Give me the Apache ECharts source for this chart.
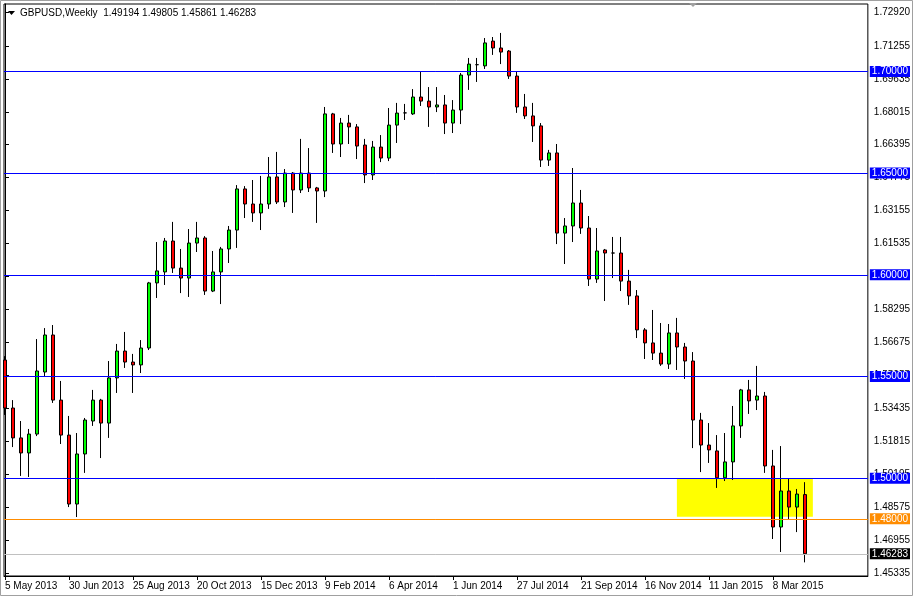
<!DOCTYPE html>
<html><head><meta charset="utf-8">
<script src="https://cdn.jsdelivr.net/npm/echarts@6/dist/echarts.min.js"></script>
<style>html,body{margin:0;padding:0;background:#fff}#c{width:913px;height:596px}</style>
</head><body><div id="c"></div>
<script>
const symbolName = 'GBPUSD,Weekly';
const opens = [1.5581,1.5345,1.5198,1.5124,1.5217,1.5522,1.5704,1.5384,1.5212,1.4873,
1.5119,1.5281,1.5384,1.5271,1.5493,1.5625,1.5571,1.5557,1.5640,1.5960,
1.6014,1.6166,1.6033,1.5984,1.6156,1.6181,1.5920,1.6014,1.6127,1.6220,
1.6422,1.6348,1.6304,1.6348,1.6481,1.6358,1.6500,1.6417,1.6500,1.6427,
1.6412,1.6791,1.6643,1.6746,1.6727,1.6638,1.6491,1.6628,1.6574,1.6736,
1.6796,1.6791,1.6874,1.6854,1.6825,1.6835,1.6746,1.6810,1.6982,1.7033,
1.7027,1.7149,1.7115,1.7100,1.6977,1.6825,1.6781,1.6732,1.6564,1.6599,
1.6205,1.6240,1.6353,1.6230,1.5979,1.6122,1.6107,1.6107,1.5969,1.5896,
1.5729,1.5665,1.5615,1.5561,1.5714,1.5645,1.5576,1.5286,1.5163,1.5134,
1.5002,1.5080,1.5257,1.5434,1.5384,1.5404,1.5060,1.4760,1.4937,1.4858,
1.49194];
const highs = [1.5600,1.5384,1.5281,1.5242,1.5684,1.5738,1.5753,1.5478,1.5306,1.5222,
1.5296,1.5434,1.5390,1.5576,1.5660,1.5719,1.5611,1.5679,1.5965,1.6161,
1.6181,1.6260,1.6127,1.6225,1.6260,1.6190,1.6117,1.6137,1.6240,1.6441,
1.6436,1.6466,1.6486,1.6579,1.6604,1.6520,1.6505,1.6668,1.6623,1.6432,
1.6825,1.6796,1.6771,1.6786,1.6741,1.6668,1.6658,1.6687,1.6820,1.6845,
1.6840,1.6913,1.6997,1.6923,1.6923,1.6884,1.6859,1.6992,1.7066,1.7066,
1.7164,1.7169,1.7189,1.7105,1.6997,1.6889,1.6845,1.6746,1.6614,1.6643,
1.6279,1.6525,1.6417,1.6289,1.6230,1.6127,1.6186,1.6186,1.6024,1.5925,
1.5738,1.5827,1.5763,1.5758,1.5788,1.5665,1.5620,1.5321,1.5271,1.5212,
1.5222,1.5355,1.5439,1.5483,1.5552,1.5424,1.5139,1.5158,1.4996,1.4947,
1.49805];
const lows = [1.5311,1.5153,1.5011,1.5006,1.5207,1.5498,1.5370,1.5168,1.4858,1.4809,
1.5026,1.5257,1.5099,1.5198,1.5419,1.5542,1.5419,1.5517,1.5630,1.5886,
1.5950,1.6009,1.5910,1.5891,1.6112,1.5901,1.5915,1.5856,1.6058,1.6132,
1.6279,1.6260,1.6220,1.6324,1.6348,1.6333,1.6304,1.6402,1.6407,1.6255,
1.6382,1.6599,1.6579,1.6643,1.6569,1.6451,1.6466,1.6554,1.6559,1.6648,
1.6761,1.6786,1.6830,1.6727,1.6800,1.6692,1.6697,1.6741,1.6909,1.6948,
1.7012,1.7081,1.7036,1.6963,1.6796,1.6766,1.6653,1.6530,1.6535,1.6151,
1.6053,1.6161,1.6201,1.5945,1.5960,1.5871,1.5984,1.5920,1.5852,1.5689,
1.5586,1.5581,1.5552,1.5537,1.5532,1.5488,1.5148,1.5030,1.5075,1.4952,
1.4986,1.4991,1.5198,1.5316,1.5335,1.5026,1.4701,1.4637,1.4799,1.4735,
1.45861];
const closes = [1.5345,1.5198,1.5124,1.5217,1.5527,1.5704,1.5384,1.5212,1.4873,1.5119,
1.5286,1.5384,1.5271,1.5493,1.5625,1.5571,1.5557,1.5640,1.5960,1.6019,
1.6166,1.6033,1.5984,1.6156,1.6181,1.5920,1.6014,1.6127,1.6220,1.6422,
1.6348,1.6304,1.6348,1.6481,1.6358,1.6500,1.6417,1.6500,1.6427,1.6412,
1.6791,1.6643,1.6746,1.6727,1.6633,1.6491,1.6628,1.6574,1.6736,1.6795,
1.6796,1.6874,1.6854,1.6825,1.6835,1.6746,1.6810,1.6982,1.7036,1.7033,
1.7140,1.7115,1.7095,1.6977,1.6825,1.6781,1.6732,1.6564,1.6599,1.6205,
1.6240,1.6353,1.6230,1.5979,1.6117,1.6107,1.6107,1.5969,1.5896,1.5729,
1.5665,1.5615,1.5561,1.5714,1.5645,1.5576,1.5286,1.5163,1.5139,1.5002,
1.5080,1.5257,1.5434,1.5380,1.5404,1.5060,1.4760,1.4937,1.4858,1.4922,
1.46283];
const dateTickIdx = [0,8,16,24,32,40,48,56,64,72,80,88,96];
const dateTickLabels = ['5 May 2013','30 Jun 2013','25 Aug 2013','20 Oct 2013','15 Dec 2013','9 Feb 2014','6 Apr 2014','1 Jun 2014','27 Jul 2014','21 Sep 2014','16 Nov 2014','11 Jan 2015','8 Mar 2015'];
const priceTickLabels = ['1.45335','1.46955','1.48575','1.50195','1.51815','1.53435','1.55055','1.56675','1.58295','1.59915','1.61535','1.63155','1.64775','1.66395','1.68015','1.69635','1.71255','1.72920'];
const blueLevels = [1.70, 1.65, 1.60, 1.55, 1.50];
const orangeLevel = 1.48;
const zoneStartIdx = 84, zoneEndIdx = 101, zoneHigh = 1.4998, zoneLow = 1.4810;

const FONT = 'Liberation Sans, Arial, sans-serif';
const priceTicks = priceTickLabels.map(Number);
const candleData = opens.map((o, i) => [i, o, closes[i], lows[i], highs[i]]);
const last = opens.length - 1;
const header = symbolName + '  ' + [opens[last], highs[last], lows[last], closes[last]].map(v => v.toFixed(5)).join(' ');

const lvl = (v, lineColor, bg) => ({
  yAxis: v,
  lineStyle: { color: lineColor, type: 'solid', width: 1 },
  label: { backgroundColor: bg }
});

const chart = echarts.init(document.getElementById('c'), null, { renderer: 'canvas' });
chart.setOption({
  animation: false,
  backgroundColor: '#ffffff',
  textStyle: { fontFamily: FONT },
  grid: { left: 4, right: 45, top: 4, bottom: 20, show: true, borderColor: '#000', borderWidth: 1, backgroundColor: '#fff' },
  xAxis: {
    type: 'value', min: -0.125, max: 107.875,
    axisLine: { show: true, lineStyle: { color: '#000' } },
    axisTick: { show: true, customValues: dateTickIdx, length: 4, lineStyle: { color: '#000' } },
    axisLabel: { customValues: dateTickIdx, formatter: v => dateTickLabels[dateTickIdx.indexOf(Math.round(v))] || '', align: 'left', margin: 5, color: '#000', fontSize: 10, fontFamily: FONT },
    splitLine: { show: false }
  },
  yAxis: {
    type: 'value', position: 'right', min: 1.45191, max: 1.73313, scale: true,
    axisLine: { show: true, lineStyle: { color: '#000' } },
    axisTick: { show: true, customValues: priceTicks, length: 4, lineStyle: { color: '#000' } },
    axisLabel: { customValues: priceTicks, formatter: v => v.toFixed(5), margin: 6, color: '#000', fontSize: 10, fontFamily: FONT },
    splitLine: { show: false }
  },
  series: [
    {
      type: 'line', data: [], z: 1, clip: false, silent: true,
      markArea: {
        silent: true,
        itemStyle: { color: '#FFFF00', opacity: 1 },
        data: [[{ xAxis: zoneStartIdx, yAxis: zoneHigh }, { xAxis: zoneEndIdx, yAxis: zoneLow }]]
      }
    },
    {
      type: 'candlestick', z: 3, data: candleData,
      encode: { x: 0, y: [1, 2, 3, 4] },
      barWidth: 4,
      itemStyle: { color: '#00FF00', color0: '#FF0000', borderColor: '#000', borderColor0: '#000', borderColorDoji: '#000', borderWidth: 1 }
    },
    {
      type: 'line', data: [], z: 5, clip: false, silent: true,
      markLine: {
        silent: true, symbol: ['none', 'none'], precision: 5,
        label: { show: true, position: 'end', distance: 2, formatter: p => Number(p.value).toFixed(5), color: '#fff', fontSize: 10, fontFamily: FONT, padding: [1, 2, 0, 2], lineHeight: 10 },
        data: blueLevels.map(v => lvl(v, '#0000FF', '#0000FF'))
          .concat([lvl(orangeLevel, '#FF8C00', '#FF8C00'), lvl(closes[last], '#C0C0C0', '#000000')])
      }
    }
  ],
  graphic: [
    { type: 'rect', shape: { x: 0.5, y: 0.5, width: 912, height: 595 }, style: { fill: 'none', stroke: '#A0A0A0', lineWidth: 1 }, silent: true, z: 100 },
    { type: 'polygon', shape: { points: [[8, 11], [15, 11], [11.5, 15]] }, style: { fill: '#000' }, z: 100 },
    { type: 'text', left: 20, top: 8, style: { text: header, fill: '#000', font: '10px ' + FONT }, z: 100 },
    { type: 'polygon', shape: { points: [[689, 3], [697, 3], [693, 7]] }, style: { fill: '#A0A0A0' }, z: 100 }
  ]
});
</script></body></html>
